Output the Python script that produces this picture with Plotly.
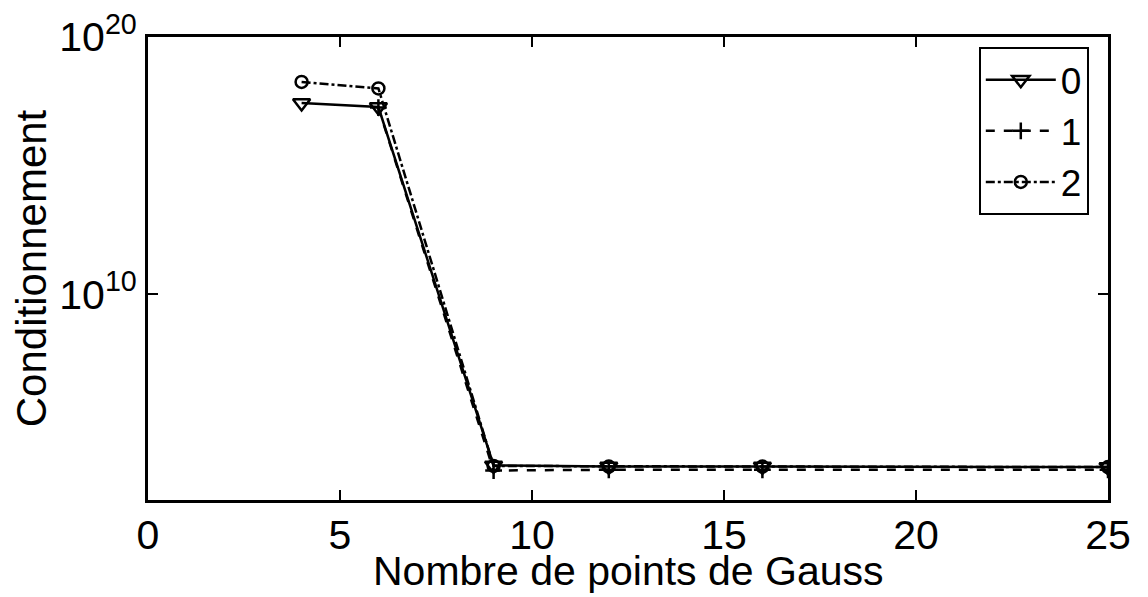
import plotly.graph_objects as go

x_points = [4, 6, 9, 12, 16, 25]
series_names = ["0", "1", "2"]
cond_0 = [2.7e17, 1.9e17, 2.2e3, 2.0e3, 2.0e3, 1.9e3]
cond_1 = [None, 1.8e17, 1.4e3, 1.5e3, 1.5e3, 1.5e3]
cond_2 = [1.8e18, 1.0e18, 2.1e3, 2.0e3, 2.0e3, 1.9e3]
x_ticks = [0, 5, 10, 15, 20, 25]
y_ticks = [1e10, 1e20]
y_ticktext = ["10<sup>10</sup>", "10<sup>20</sup>"]
x_title = "Nombre de points de Gauss"
y_title = "Conditionnement"

FONT = "Liberation Sans, Arial, Helvetica, sans-serif"

fig = go.Figure()
styles = [
    dict(dash="solid", symbol="triangle-down-open", size=15),
    dict(dash="dash", symbol="cross-thin-open", size=12),
    dict(dash="dashdot", symbol="circle-open", size=12),
]
for name, vals, st in zip(series_names, [cond_0, cond_1, cond_2], styles):
    fig.add_trace(go.Scatter(
        x=x_points, y=vals, name=name, mode="lines+markers",
        line=dict(color="black", width=2.5, dash=st["dash"]),
        marker=dict(symbol=st["symbol"], size=st["size"], color="black",
                    line=dict(color="black", width=2.5)),
    ))

axis_common = dict(
    showline=True, linecolor="black", linewidth=3, mirror="ticks",
    ticks="inside", ticklen=10, tickwidth=2, tickcolor="black",
    showgrid=False, zeroline=False, automargin=False,
    ticklabeloverflow="allow",
    tickfont=dict(family=FONT, size=41, color="black"),
)

fig.update_layout(
    width=1140, height=589,
    paper_bgcolor="white", plot_bgcolor="white",
    margin=dict(l=140, r=40, t=29, b=97),
    font=dict(family=FONT, color="black", size=41),
    xaxis=dict(range=[0, 25], tickvals=x_ticks, ticklabelstandoff=-3,
               **axis_common),
    yaxis=dict(type="log", range=[2, 20], tickvals=y_ticks, ticktext=y_ticktext,
               title=dict(text=y_title,
                          font=dict(family=FONT, size=42), standoff=4),
               **axis_common),
    legend=dict(x=0.98, y=0.978, xanchor="right", yanchor="top",
                bordercolor="black", borderwidth=2, bgcolor="white",
                font=dict(family=FONT, size=37), itemwidth=70,
                tracegroupgap=0),
    showlegend=True,
    annotations=[dict(text=x_title, xref="paper", yref="paper", x=0.5, y=0,
                      xanchor="center", yanchor="top", yshift=-46,
                      showarrow=False, font=dict(family=FONT, size=41))],
)

fig.write_html("out.html")
